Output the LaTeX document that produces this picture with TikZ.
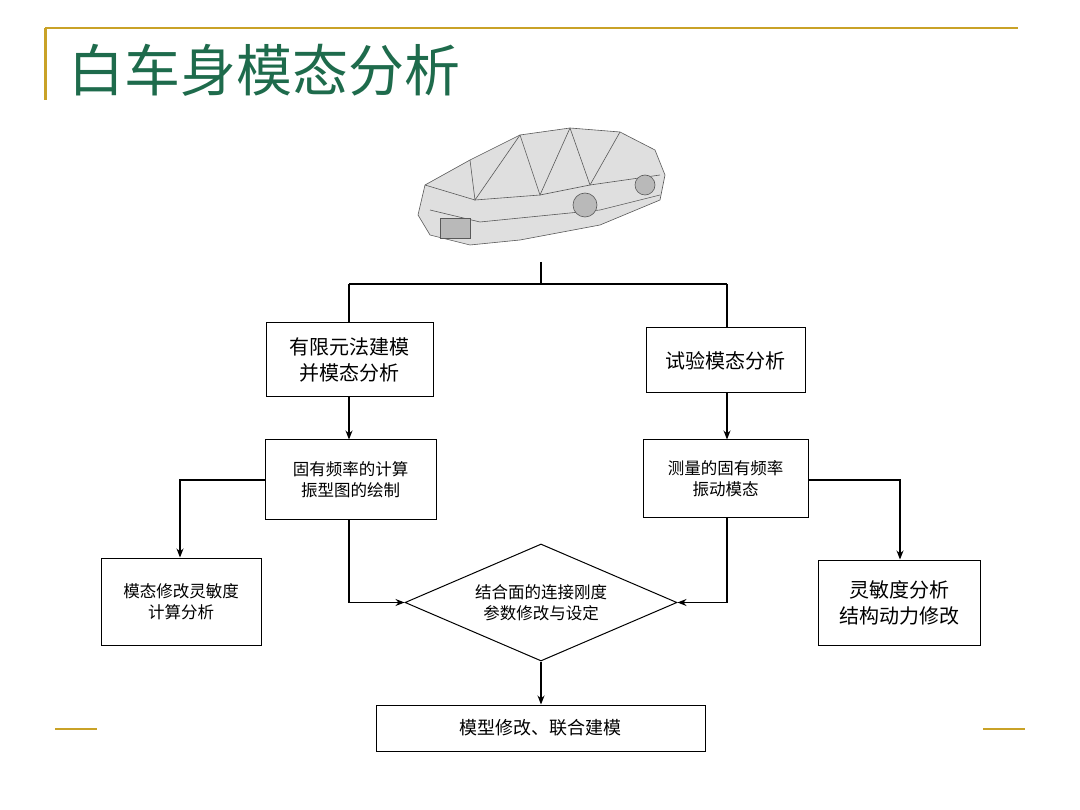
\documentclass[tikz,border=0pt]{standalone}
\usepackage{fontspec}
\setmainfont{Noto Sans CJK SC}
\usetikzlibrary{shapes.geometric,arrows.meta}
\definecolor{gold}{HTML}{C9A227}
\definecolor{ttl}{HTML}{1E6B4C}
\begin{document}
\begin{tikzpicture}[x=1pt,y=-1pt,
  box/.style={draw,line width=1pt,align=center,inner sep=0pt,font=\fontsize{16.5}{21}\selectfont},
  big/.style={font=\fontsize{20}{26}\selectfont},
  ln/.style={line width=1.1pt},
  ar/.style={ln,-{Stealth[length=9pt,width=7pt]}}]
\useasboundingbox (0,0) rectangle (1080,810);
\fill[white] (0,0) rectangle (1080,810);
% title decoration
\draw[gold,line width=2pt] (45,28) -- (1018,28);
\draw[gold,line width=3pt] (45,28) -- (45,100);
\draw[gold,line width=2.5pt] (55,729) -- (97,729);
\draw[gold,line width=2.5pt] (983,729) -- (1025,729);
\node[anchor=west,text=ttl,font=\fontsize{56}{60}\selectfont,inner sep=0pt] (title) at (68,70) {白车身模态分析};
% car sketch
\begin{scope}[line width=0.6pt,draw=gray!70!black,fill=gray!25]
\filldraw (418,215) -- (425,185) -- (470,160) -- (520,135) -- (570,128) -- (620,132) -- (655,150) -- (665,175) -- (660,200) -- (600,225) -- (520,240) -- (470,245) -- (430,235) -- cycle;
\draw (470,160) -- (475,200) -- (520,135);
\draw (520,135) -- (540,195) -- (570,128);
\draw (570,128) -- (590,185) -- (620,132);
\draw (425,185) -- (475,200) -- (540,195) -- (590,185) -- (660,175);
\draw (430,210) -- (480,222) -- (600,210) -- (660,195);
\filldraw[fill=gray!55] (440,218) rectangle (470,238);
\filldraw[fill=gray!55] (585,205) circle (12);
\filldraw[fill=gray!55] (645,185) circle (10);
\end{scope}
% boxes
\node[box,big,minimum width=167pt,minimum height=74pt] (b1) at (349.5,360) {有限元法建模\\并模态分析};
\node[box,big,minimum width=159pt,minimum height=65pt] (b2) at (725.5,360.5) {试验模态分析};
\node[box,minimum width=171pt,minimum height=79pt] (b3) at (350.5,479.5) {固有频率的计算\\振型图的绘制};
\node[box,minimum width=165pt,minimum height=77pt] (b4) at (725.5,478.5) {测量的固有频率\\振动模态};
\node[box,minimum width=160pt,minimum height=87pt] (b5) at (181,601.5) {模态修改灵敏度\\计算分析};
\node[box,big,minimum width=162pt,minimum height=85pt] (b6) at (899,602.5) {灵敏度分析\\结构动力修改};
\node[draw,line width=1pt,diamond,aspect=2.33,minimum width=272pt,minimum height=117pt,inner sep=0pt,align=center,font=\fontsize{16.5}{21}\selectfont] (d) at (541,602.5) {结合面的连接刚度\\参数修改与设定};
\node[box,minimum width=329pt,minimum height=46pt,font=\fontsize{18}{22}\selectfont] (b7) at (540.5,728) {模型修改、联合建模};
% connectors
\coordinate (top) at (541,262);
\coordinate (split) at (541,284);
\draw[ln] (top) -- (split);
\draw[ln] (349,284) -- (727,284);
\draw[ln] (349,284) -- (b1.north -| 349,0);
\draw[ln] (727,284) -- (b2.north -| 727,0);
\draw[ar] (b1.south -| 349,0) -- (b3.north -| 349,0);
\draw[ar] (b2.south -| 727,0) -- (b4.north -| 727,0);
\draw[ar] (b3.west |- 0,480) -- (180,480) -- (b5.north -| 180,0);
\draw[ar] (b4.east |- 0,480) -- (900,480) -- (b6.north -| 900,0);
\draw[ar] (b3.south -| 349,0) -- (349,602.5) -- (d.west);
\draw[ar] (b4.south -| 727,0) -- (727,602.5) -- (d.east);
\draw[ar] (d.south -| 541,0) -- (b7.north -| 541,0);
\end{tikzpicture}
\end{document}
